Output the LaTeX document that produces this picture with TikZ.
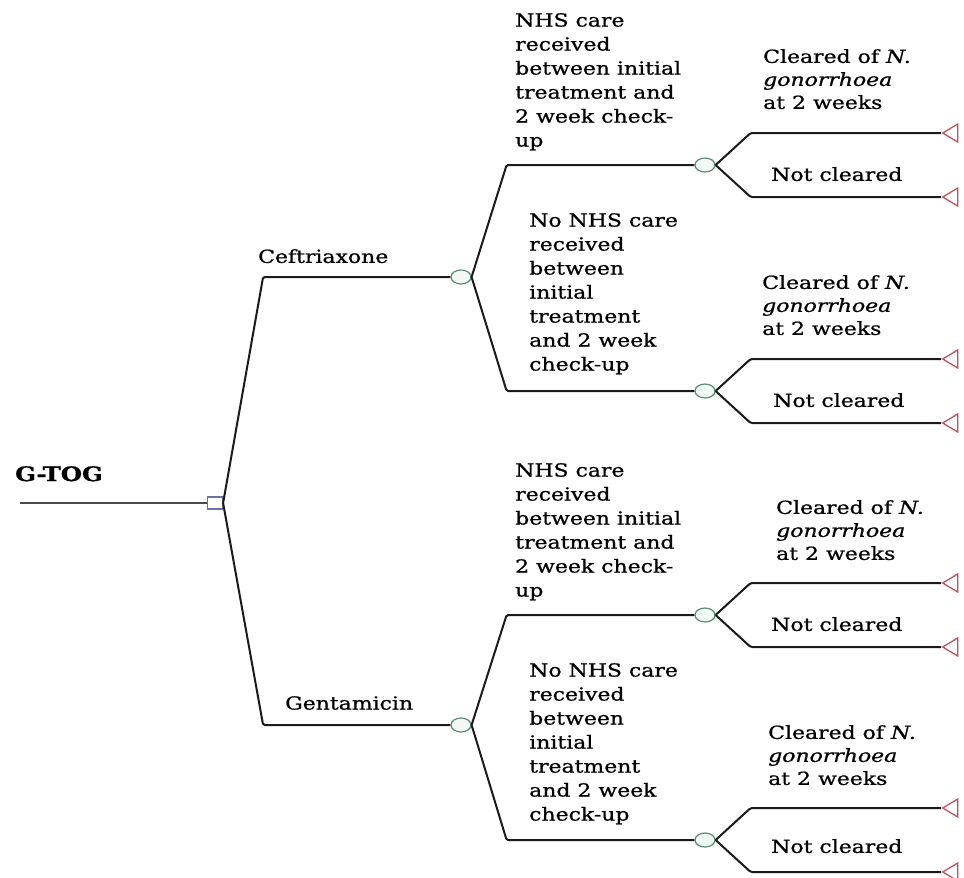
\documentclass[tikz,border=0pt]{standalone}
\usepackage{fontspec}
\setmainfont{DejaVu Serif}[FakeStretch=1.22, FakeBold=0.8]
\usetikzlibrary{shapes.geometric}
\definecolor{linedark}{HTML}{1A1A1A}
\definecolor{rootgray}{HTML}{4A4A4A}
\definecolor{chancegreen}{HTML}{5B8A78}
\definecolor{chancefill}{HTML}{F2F8F4}
\definecolor{decblue}{HTML}{6F6FA8}
\definecolor{termred}{HTML}{C0505A}

\begin{document}
\begin{tikzpicture}[x=1pt, y=-1pt,
  branch/.style={draw=linedark, line width=2pt, rounded corners=1.5pt},
  chance/.style={ellipse, draw=chancegreen, fill=chancefill, line width=1.2pt,
    minimum width=20pt, minimum height=14pt, inner sep=0pt},
  decision/.style={rectangle, draw=decblue, fill=white, line width=1.2pt,
    minimum width=15pt, minimum height=12pt, inner sep=0pt},
  terminal/.style={isosceles triangle, isosceles triangle stretches,
    shape border rotate=180, draw=termred, fill=white, line width=1.3pt,
    minimum width=18pt, minimum height=15pt, inner sep=0pt, anchor=apex},
  lbl/.style={anchor=north west, align=left, inner sep=0pt,
    font=\fontsize{18}{24}\selectfont},
  outcome/.style={lbl, font=\fontsize{18}{23}\selectfont}]

  \useasboundingbox (0,0) rectangle (964,878);

  % Uzly stromu
  \coordinate (root) at (20,503);
  \node[decision] (dec) at (215,503) {};
  \node[chance] (cef) at (461,277) {};
  \node[chance] (gen) at (461,725) {};
  \node[chance] (cefA) at (705,165) {};
  \node[chance] (cefB) at (705,391) {};
  \node[chance] (genA) at (705,615) {};
  \node[chance] (genB) at (705,840) {};

  \draw[line width=1.6pt, draw=rootgray] (root) -- (dec.west);

  % Antibiotika
  \foreach \c in {cef, gen}
    \draw[branch] (dec.east) -- ([xshift=40]dec.east |- \c) -- (\c.west);

  % NHS pece
  \foreach \p/\c in {cef/cefA, cef/cefB, gen/genA, gen/genB}
    \draw[branch] (\p.east) -- ([xshift=35]\p.east |- \c) -- (\c.west);

  % Vysledky
  \foreach \c in {cefA, cefB, genA, genB} {
    \node[terminal] (\c-yes) at ([xshift=236, yshift=32]\c.center) {};
    \node[terminal] (\c-no) at ([xshift=236, yshift=-32]\c.center) {};
    \draw[branch] (\c.east) -- ([xshift=35, yshift=32]\c.east) -- (\c-yes.apex);
    \draw[branch] (\c.east) -- ([xshift=35, yshift=-32]\c.east) -- (\c-no.apex);
  }

  % Popisky
  \node[lbl, font=\fontsize{20}{24}\selectfont\bfseries] (gtog) at (15,466) {G-TOG};
  \node[lbl] (cefL) at (258,249) {Ceftriaxone};
  \node[lbl] (genL) at (285,696) {Gentamicin};

  \node[lbl] (cefAL) at (515,13)
    {NHS care\\received\\between initial\\treatment and\\2 week check-\\up};
  \node[lbl] (cefBL) at (529,213)
    {No NHS care\\received\\between\\initial\\treatment\\and 2 week\\check-up};
  \node[lbl] (genAL) at (515,463)
    {NHS care\\received\\between initial\\treatment and\\2 week check-\\up};
  \node[lbl] (genBL) at (529,663)
    {No NHS care\\received\\between\\initial\\treatment\\and 2 week\\check-up};

  \node[outcome] (cefAyL) at (763,49) {Cleared of \textit{N.}\\\textit{gonorrhoea}\\at 2 weeks};
  \node[outcome] (cefByL) at (762,275) {Cleared of \textit{N.}\\\textit{gonorrhoea}\\at 2 weeks};
  \node[outcome] (genAyL) at (776,500) {Cleared of \textit{N.}\\\textit{gonorrhoea}\\at 2 weeks};
  \node[outcome] (genByL) at (768,725) {Cleared of \textit{N.}\\\textit{gonorrhoea}\\at 2 weeks};

  \node[lbl] (cefAnL) at (771,167) {Not cleared};
  \node[lbl] (cefBnL) at (773,393) {Not cleared};
  \node[lbl] (genAnL) at (771,617) {Not cleared};
  \node[lbl] (genBnL) at (771,839) {Not cleared};
\end{tikzpicture}
\end{document}
